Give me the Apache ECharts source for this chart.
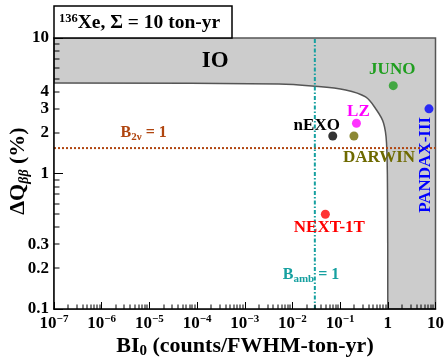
<!DOCTYPE html>
<html><head><meta charset="utf-8">
<script src="https://cdn.jsdelivr.net/npm/echarts@6/dist/echarts.min.js"></script>
<style>html,body{margin:0;padding:0;background:#fff}#c{width:447px;height:364px}</style>
</head><body><div id="c"></div>
<script>
// ---- data ----
const experiments = ['JUNO', 'PANDAX-III', 'LZ', 'nEXO', 'DARWIN', 'NEXT-1T'];
const expBI = [1.3, 7.3, 0.22, 0.070, 0.195, 0.049];
const expDQ = [4.45, 3.0, 2.35, 1.89, 1.89, 0.50];
const ioBoundaryBI = [1e-7, 0.00522, 0.0255, 0.131, 0.342, 0.581, 0.813, 0.94, 0.987, 1.0];
const ioBoundaryDQ = [4.66, 4.58, 4.43, 4.14, 3.67, 2.94, 2.36, 1.68, 0.64, 0.1];
const b2nuDQ = 1.54;
const bambBI = 0.0295;
const xTickPowers = [-7, -6, -5, -4, -3, -2, -1, 0, 1];
const yTickLabels = [10, 4, 3, 2, 1, 0.3, 0.2, 0.1];
const xRange = [1e-7, 10];
const yRange = [0.1, 10];

// ---- styles ----
const FONT = "'Liberation Serif','DejaVu Serif',serif";
const expColors = {'JUNO':'#1f9e1f','PANDAX-III':'#0000ff','LZ':'#ff00ff','nEXO':'#000000','DARWIN':'#6e6a00','NEXT-1T':'#ff0000'};
const expLabelOffset = {'JUNO':[-1,-16,0],'PANDAX-III':[-3,56,90],'LZ':[2,-12,0],'nEXO':[-16,-10,0],'DARWIN':[25,22,0],'NEXT-1T':[4,13,0]};
const annotations = [
  {text:'{b|IO}', at:[2.4e-4, 6.76], rich:{b:{fontSize:23,fontWeight:'bold',fontFamily:FONT,fill:'#000'}}},
  {text:'{b|B}{sub|2ν}{b| = 1}', at:[7.6e-6, 1.99], rich:{b:{fontSize:16,fontWeight:'bold',fontFamily:FONT,fill:'#b0450f',lineHeight:20},sub:{fontSize:11,fontWeight:'bold',fontFamily:FONT,fill:'#b0450f',lineHeight:10,verticalAlign:'bottom'}}},
  {text:'{b|B}{sub|amb}{b| = 1}', at:[0.0245, 0.178], rich:{b:{fontSize:16,fontWeight:'bold',fontFamily:FONT,fill:'#16a0a0',lineHeight:20},sub:{fontSize:11,fontWeight:'bold',fontFamily:FONT,fill:'#16a0a0',lineHeight:10,verticalAlign:'bottom'}}}
];

const xMinor = [];
for (let d = -7; d <= 0; d++) for (let m = 2; m <= 9; m++) xMinor.push(m * Math.pow(10, d));
const yMinor = [];
for (let d = -1; d <= 0; d++) for (let m = 2; m <= 9; m++) yMinor.push(+(m * Math.pow(10, d)).toPrecision(3));

const chart = echarts.init(document.getElementById('c'), null, {renderer:'canvas'});
const supChar = p => (p < 0 ? '−' : '') + Math.abs(p);

const option = {
  animation: false,
  grid: {left: 54, right: 10, top: 38, bottom: 55},
  xAxis: {
    type: 'log', logBase: 10, min: xRange[0], max: xRange[1], interval: 1, z: 20,
    axisLine: {lineStyle: {color: '#000', width: 1.5}},
    axisTick: {inside: true, length: 7, lineStyle: {color: '#000', width: 1}},
    splitLine: {show: false},
    axisLabel: {
      margin: 5, hideOverlap: false,
      formatter: v => {
        const p = Math.round(Math.log10(v));
        if (p === 0) return '{b|1}';
        if (p === 1) return '{b|10}';
        return '{b|10}{sup|' + supChar(p) + '}';
      },
      rich: {
        b: {fontSize: 17, fontWeight: 'bold', fontFamily: FONT, color: '#000', lineHeight: 20},
        sup: {fontSize: 11, fontWeight: 'bold', fontFamily: FONT, color: '#000', lineHeight: 10, verticalAlign: 'top'}
      }
    }
  },
  yAxis: {
    type: 'log', logBase: 10, min: yRange[0], max: yRange[1], interval: 1, z: 20,
    axisLine: {lineStyle: {color: '#000', width: 1.5}},
    axisTick: {inside: true, length: 9, lineStyle: {color: '#000', width: 1}},
    splitLine: {show: false},
    axisLabel: {show: false}
  },
  graphic: [
    {type: 'rect', z: 100, shape: {x: 54, y: 6, width: 178, height: 32}, style: {fill: '#fff', stroke: '#000', lineWidth: 1.5}},
    {type: 'text', z: 101, x: 59, y: 23, style: {
      text: '{s|136}{b|Xe, Σ = 10 ton-yr}', verticalAlign: 'middle',
      rich: {
        b: {fontSize: 19.5, fontWeight: 'bold', fontFamily: FONT, fill: '#000', lineHeight: 22},
        s: {fontSize: 12.5, fontWeight: 'bold', fontFamily: FONT, fill: '#000', lineHeight: 12, verticalAlign: 'top'}
      }}},
    {type: 'text', z: 101, x: 245, y: 346, style: {
      text: '{b|BI}{sub|0}{b| (counts/FWHM-ton-yr)}', align: 'center', verticalAlign: 'middle',
      rich: {
        b: {fontSize: 22, fontWeight: 'bold', fontFamily: FONT, fill: '#000', lineHeight: 26},
        sub: {fontSize: 15, fontWeight: 'bold', fontFamily: FONT, fill: '#000', lineHeight: 14, verticalAlign: 'bottom'}
      }}},
    {type: 'text', z: 101, x: 18, y: 171, rotation: Math.PI / 2, style: {
      text: '{b|ΔQ}{sub|ββ}{b| (%)}', align: 'center', verticalAlign: 'middle',
      rich: {
        b: {fontSize: 22, fontWeight: 'bold', fontFamily: FONT, fill: '#000', lineHeight: 26},
        sub: {fontSize: 14, fontStyle: 'italic', fontWeight: 'bold', fontFamily: FONT, fill: '#000', lineHeight: 12, verticalAlign: 'bottom'}
      }}}
  ],
  series: [
    { // grey background of excluded region
      type: 'custom', z: 1, clip: false, silent: true,
      data: [[xRange[0], yRange[1]]],
      renderItem: (params, api) => {
        const a = api.coord([xRange[0], yRange[1]]);
        const b = api.coord([xRange[1], yRange[0]]);
        return {type: 'rect', shape: {x: a[0], y: a[1], width: b[0] - a[0], height: b[1] - a[1]},
          style: {fill: '#cccccc', stroke: '#555', lineWidth: 1.5}};
      }
    },
    { // IO boundary, white allowed region below
      type: 'line', z: 2, silent: true, showSymbol: false, symbol: 'none',
      smooth: 0.35,
      data: ioBoundaryBI.map((x, i) => [x, ioBoundaryDQ[i]]),
      lineStyle: {color: '#555', width: 1.5},
      areaStyle: {color: '#fff', opacity: 1, origin: 'start'}
    },
    {
      type: 'line', z: 4, silent: true, showSymbol: false, symbol: 'none',
      data: [[xRange[0], b2nuDQ], [xRange[1], b2nuDQ]],
      lineStyle: {color: '#b0450f', width: 2, type: [2, 2]}
    },
    {
      type: 'line', z: 4, silent: true, showSymbol: false, symbol: 'none',
      data: [[bambBI, yRange[0]], [bambBI, yRange[1]]],
      lineStyle: {color: '#16a0a0', width: 2, type: [4, 2, 1.5, 2]}
    },
    { // minor ticks x
      type: 'custom', z: 10, clip: false, silent: true,
      data: xMinor.map(v => [v, yRange[0]]),
      renderItem: (params, api) => {
        const p = api.coord([api.value(0), api.value(1)]);
        return {type: 'rect', shape: {x: Math.round(p[0]) - 0.5, y: p[1] - 4.5, width: 1, height: 4.5}, style: {fill: '#000'}};
      }
    },
    { // minor ticks y
      type: 'custom', z: 10, clip: false, silent: true,
      data: yMinor.map(v => [xRange[0], v]),
      renderItem: (params, api) => {
        const p = api.coord([api.value(0), api.value(1)]);
        return {type: 'rect', shape: {x: p[0], y: Math.round(p[1]) - 0.5, width: 5.5, height: 1}, style: {fill: '#000'}};
      }
    },
    { // y tick labels
      type: 'custom', z: 10, clip: false, silent: true,
      data: yTickLabels.map(v => [xRange[0], v]),
      renderItem: (params, api) => {
        const v = api.value(1);
        const p = api.coord([api.value(0), v]);
        const t = v >= 1 ? String(Math.round(v)) : v.toFixed(1);
        return {type: 'text', x: p[0] - 5, y: p[1], style: {text: t, align: 'right', verticalAlign: 'middle',
          fontSize: 17, fontWeight: 'bold', fontFamily: FONT, fill: '#000'}};
      }
    },
    {
      type: 'scatter', z: 6, silent: true, symbolSize: 9,
      data: experiments.map((n, i) => ({value: [expBI[i], expDQ[i]], itemStyle: {color: expColors[n]}}))
    },
    { // experiment labels
      type: 'custom', z: 6, clip: false, silent: true,
      data: experiments.map((n, i) => [expBI[i], expDQ[i], i]),
      renderItem: (params, api) => {
        const i = api.value(2);
        const n = experiments[i];
        const p = api.coord([api.value(0), api.value(1)]);
        const o = expLabelOffset[n];
        return {type: 'text', x: p[0] + o[0], y: p[1] + o[1], rotation: o[2] * Math.PI / 180,
          style: {text: n, align: 'center', verticalAlign: 'middle', fontSize: 17, fontWeight: 'bold', fontFamily: FONT, fill: expColors[n]}};
      }
    },
    { // annotations
      type: 'custom', z: 7, clip: false, silent: true,
      data: annotations.map((a, i) => [a.at[0], a.at[1], i]),
      renderItem: (params, api) => {
        const a = annotations[api.value(2)];
        const p = api.coord([api.value(0), api.value(1)]);
        return {type: 'text', x: p[0], y: p[1], style: {text: a.text, rich: a.rich, align: 'center', verticalAlign: 'middle'}};
      }
    }
  ]
};
chart.setOption(option);
</script></body></html>
